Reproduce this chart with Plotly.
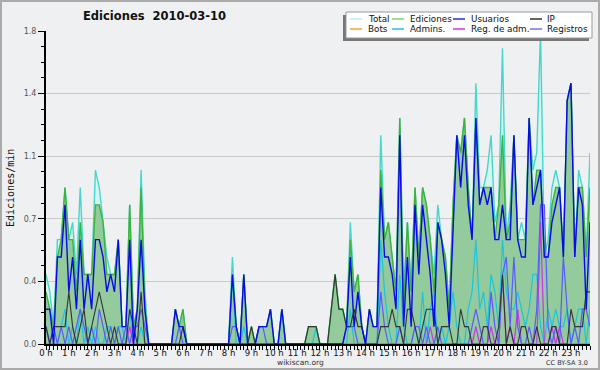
import plotly.graph_objects as go

# ---------------- data (edits per minute, 10-minute bins, 00:00 .. 23:50) ----------------
HOURS = list(range(24))
HOUR_LABELS = ["0 h", "1 h", "2 h", "3 h", "4 h", "5 h", "6 h", "7 h", "8 h", "9 h", "10 h", "11 h",
               "12 h", "13 h", "14 h", "15 h", "16 h", "17 h", "18 h", "19 h", "20 h", "21 h", "22 h", "23 h"]
Y_TICKS = [0, 0.36, 0.72, 1.08, 1.44, 1.8]
Y_TICK_LABELS = ["0.0", "0.4", "0.7", "1.1", "1.4", "1.8"]

total = [
    0.4, 0.3, 0.1, 0.6, 0.6, 0.9,   0.6, 0.7, 0.4, 0.9, 0.4, 0.4,
    0.4, 1.0, 0.9, 0.7, 0.5, 0.4,   0.4, 0.6, 0.1, 0.1, 0.8, 0.1,
    0.2, 1.0, 0.3, 0, 0, 0,         0, 0, 0, 0, 0.2, 0.1,
    0.2, 0, 0, 0, 0, 0,             0, 0, 0, 0, 0, 0,
    0, 0.5, 0.1, 0, 0.4, 0,         0.1, 0, 0.1, 0.1, 0.1, 0.2,
    0, 0, 0.2, 0, 0, 0,             0, 0, 0, 0.1, 0.1, 0.1,
    0, 0, 0, 0.2, 0.4, 0.2,         0.2, 0.1, 0.7, 0.3, 0.4, 0.1,
    0, 0.2, 0.1, 0.1, 1.2, 0.6,     0.7, 0.5, 0.3, 1.3, 0.3, 0.7,
    0.3, 0.9, 0.5, 0.9, 0.8, 0.6,   0.4, 0.8, 0.6, 0.5, 0.2, 0.8,
    1.2, 1.1, 1.3, 0.9, 0.6, 1.5,   0.9, 0.9, 1.0, 1.2, 0.7, 0.8,
    1.7, 0.6, 0.8, 1.2, 0.6, 0.7,   0.6, 1.3, 1.0, 1.1, 1.8, 0.5,
    0.6, 0.9, 1.0, 0.9, 0.5, 1.4,   1.5, 0.5, 1.0, 0.9, 0.5, 1.1,
]
ediciones = [
    0.3, 0.2, 0.1, 0.5, 0.6, 0.9,   0.6, 0.6, 0.3, 0.7, 0.4, 0.4,
    0.4, 0.8, 0.8, 0.7, 0.4, 0.4,   0.4, 0.6, 0.1, 0.1, 0.8, 0.1,
    0.2, 0.9, 0.2, 0, 0, 0,         0, 0, 0, 0, 0.2, 0.1,
    0.2, 0, 0, 0, 0, 0,             0, 0, 0, 0, 0, 0,
    0, 0.4, 0.1, 0, 0.4, 0,         0.1, 0, 0.1, 0.1, 0.1, 0.2,
    0, 0, 0.2, 0, 0, 0,             0, 0, 0, 0.1, 0.1, 0.1,
    0, 0, 0, 0.2, 0.4, 0.2,         0.2, 0.1, 0.6, 0.3, 0.4, 0.1,
    0, 0.2, 0.1, 0.1, 1.0, 0.6,     0.7, 0.5, 0.3, 1.3, 0.2, 0.7,
    0.3, 0.9, 0.5, 0.9, 0.8, 0.6,   0.3, 0.7, 0.6, 0.5, 0.2, 0.8,
    1.2, 1.1, 1.3, 0.9, 0.6, 1.3,   0.8, 0.9, 0.9, 0.9, 0.6, 0.8,
    1.2, 0.6, 0.7, 1.2, 0.6, 0.6,   0.6, 1.3, 0.8, 1.0, 1.0, 0.5,
    0.5, 0.8, 0.9, 0.9, 0.5, 1.4,   1.5, 0.5, 0.9, 0.9, 0.5, 0.9,
]
usuarios = [
    0.2, 0.2, 0, 0.5, 0.5, 0.8,     0.3, 0.5, 0.2, 0.6, 0.2, 0.4,
    0.2, 0.6, 0.6, 0.5, 0.3, 0.4,   0.3, 0.6, 0.1, 0.1, 0.6, 0,
    0.2, 0.6, 0.2, 0, 0, 0,         0, 0, 0, 0, 0.2, 0.1,
    0.1, 0, 0, 0, 0, 0,             0, 0, 0, 0, 0, 0,
    0, 0.4, 0.1, 0, 0.4, 0,         0, 0, 0.1, 0.1, 0.1, 0.2,
    0, 0, 0.2, 0, 0, 0,             0, 0, 0, 0, 0, 0,
    0, 0, 0, 0, 0, 0,               0, 0.1, 0.5, 0.1, 0.3, 0.1,
    0, 0.2, 0.1, 0.1, 0.9, 0.5,     0.5, 0.4, 0.2, 1.2, 0.1, 0.5,
    0.1, 0.8, 0.4, 0.8, 0.6, 0.4,   0.1, 0.7, 0.6, 0.4, 0.1, 0.7,
    1.2, 0.9, 1.2, 0.8, 0.6, 1.3,   0.8, 0.9, 0.8, 0.9, 0.6, 0.6,
    0.8, 0.6, 0.6, 1.2, 0.6, 0.5,   0.5, 1.3, 0.8, 0.9, 1.0, 0.5,
    0.5, 0.7, 0.8, 0.9, 0.5, 1.4,   1.5, 0.5, 0.9, 0.8, 0.2, 0.7,
]
ip = [
    0.1, 0, 0.1, 0.1, 0.1, 0.1,     0.3, 0.1, 0, 0.1, 0.2, 0,
    0.1, 0.2, 0.3, 0.2, 0.1, 0,     0.1, 0, 0, 0, 0.2, 0.1,
    0, 0.3, 0, 0, 0, 0,             0, 0, 0, 0, 0, 0,
    0.1, 0, 0, 0, 0, 0,             0, 0, 0, 0, 0, 0,
    0, 0, 0, 0, 0, 0,               0.1, 0, 0, 0, 0, 0,
    0, 0, 0, 0, 0, 0,               0, 0, 0, 0.1, 0.1, 0.1,
    0, 0, 0, 0.2, 0.4, 0.2,         0.2, 0.1, 0.1, 0.2, 0.1, 0.1,
    0, 0, 0, 0, 0.1, 0.1,           0.1, 0.2, 0.1, 0.1, 0, 0.2,
    0.2, 0.1, 0, 0.1, 0.2, 0.2,     0.2, 0, 0.1, 0.1, 0.1, 0,
    0, 0.2, 0.1, 0.1, 0, 0,         0, 0.1, 0.1, 0, 0, 0.1,
    0.4, 0, 0.1, 0, 0, 0.1,         0.1, 0, 0, 0.1, 0, 0,
    0, 0.1, 0.1, 0, 0, 0,           0.2, 0.1, 0.1, 0.1, 0.3, 0.3,
]
bots = [
    0, 0, 0, 0, 0, 0,   0, 0, 0, 0, 0, 0,   0, 0, 0, 0, 0, 0,   0, 0, 0, 0, 0, 0,
    0, 0, 0, 0, 0, 0,   0, 0, 0, 0, 0, 0,   0, 0, 0, 0, 0, 0,   0, 0, 0, 0, 0, 0,
    0, 0, 0, 0, 0, 0,   0, 0, 0, 0, 0, 0,   0, 0, 0, 0, 0, 0,   0, 0, 0, 0, 0, 0,
    0, 0, 0, 0, 0, 0,   0, 0, 0, 0, 0, 0,   0, 0, 0, 0, 0, 0,   0, 0, 0, 0, 0, 0,
    0, 0, 0, 0, 0, 0,   0, 0, 0, 0, 0, 0,   0, 0, 0, 0, 0, 0,   0, 0, 0, 0, 0, 0,
    0, 0, 0, 0, 0, 0,   0, 0, 0, 0, 0, 0,   0, 0, 0, 0, 0, 0,   0, 0, 0, 0, 0, 0,
]
admins = [
    0.1, 0, 0, 0, 0.1, 0.2,         0, 0.1, 0, 0.2, 0, 0.1,
    0, 0.1, 0, 0, 0.1, 0.1,         0, 0.1, 0.1, 0, 0.2, 0,
    0, 0.1, 0, 0, 0, 0,             0, 0, 0, 0, 0, 0,
    0, 0, 0, 0, 0, 0,               0, 0, 0, 0, 0, 0,
    0, 0.4, 0, 0, 0.1, 0,           0, 0, 0, 0, 0, 0,
    0, 0, 0.2, 0, 0, 0,             0, 0, 0, 0, 0, 0.1,
    0, 0, 0, 0, 0, 0,               0, 0, 0.2, 0, 0, 0,
    0, 0, 0, 0, 0.6, 0.3,           0.1, 0, 0, 0.4, 0.1, 0,
    0, 0.1, 0, 0.3, 0, 0.2,         0.3, 0, 0.1, 0, 0.1, 0.3,
    0.1, 0, 0, 0.2, 0.3, 0.6,       0.2, 0.3, 0.1, 0.4, 0.3, 0.1,
    0.6, 0.3, 0.2, 0.2, 0.3, 0.2,   0.1, 0.2, 0.4, 0.4, 0.1, 0,
    0.2, 0.1, 0.2, 0.1, 0.1, 0.2,   0, 0.1, 0.2, 0.2, 0, 0.2,
]
reg_adm = [
    0, 0, 0, 0, 0, 0,   0, 0, 0, 0, 0, 0,   0, 0, 0, 0, 0, 0,   0, 0, 0, 0, 0.1, 0,
    0, 0, 0, 0, 0, 0,   0, 0, 0, 0, 0, 0,   0, 0, 0, 0, 0, 0,   0, 0, 0, 0, 0, 0,
    0, 0, 0, 0, 0, 0,   0, 0, 0, 0, 0, 0,   0, 0, 0, 0, 0, 0,   0, 0, 0, 0, 0, 0,
    0, 0, 0, 0, 0, 0,   0, 0, 0, 0, 0, 0,   0, 0, 0, 0, 0, 0,   0, 0, 0, 0, 0, 0,
    0, 0, 0, 0, 0, 0.1, 0, 0, 0, 0, 0, 0,   0, 0, 0, 0, 0, 0.1, 0, 0, 0, 0.1, 0, 0,
    0.4, 0, 0.1, 0, 0.2, 0,   0, 0, 0, 0, 0.7, 0,   0, 0.1, 0, 0.1, 0, 0,   0, 0, 0, 0, 0, 0,
]
registros = [
    0.1, 0, 0.1, 0, 0.1, 0,         0.1, 0, 0.1, 0.2, 0.1, 0,
    0.1, 0, 0.2, 0.1, 0, 0.1,       0, 0.1, 0, 0.1, 0, 0.1,
    0.1, 0.2, 0.1, 0, 0, 0,         0, 0, 0, 0, 0, 0.1,
    0, 0, 0, 0, 0, 0,               0, 0, 0, 0, 0, 0,
    0, 0.1, 0.1, 0, 0, 0,           0, 0, 0.1, 0.1, 0, 0,
    0, 0, 0, 0, 0, 0,               0, 0, 0, 0, 0, 0,
    0, 0, 0, 0, 0, 0,               0, 0.1, 0.1, 0.1, 0, 0,
    0, 0, 0, 0, 0.3, 0.1,           0, 0, 0, 0.1, 0, 0,
    0, 0.1, 0.1, 0, 0.1, 0,         0, 0.1, 0, 0, 0, 0,
    0, 0, 0, 0, 0.1, 0.2,           0.1, 0, 0, 0.3, 0.1, 0,
    0.4, 0.5, 0.1, 0.5, 0.1, 0,     0, 0.1, 0, 0.2, 0.8, 0.8,
    0.1, 0, 0.1, 0, 0.5, 0.2,       0, 0.1, 0, 0.2, 0.2, 0.1,
]

# time slots (hours) for the 10-minute bins
x = [i / 6 for i in range(len(total))]

# ---------------- layout helpers (pixel -> paper coords) ----------------
W, H = 600, 370
ML, MR, MT, MB = 46, 10, 31, 26
PW, PH = W - ML - MR, H - MT - MB


def px(v):
    return (v - ML) / PW


def py(v):
    return (H - MB - v) / PH


FONT = "DejaVu Sans"

fig = go.Figure()

fig.add_trace(go.Scatter(x=x, y=total, mode="lines", fill="tozeroy",
                         fillcolor="rgba(214,244,238,0.9)",
                         line=dict(color="#44d8cc", width=1.4), showlegend=False))
fig.add_trace(go.Scatter(x=x, y=ediciones, mode="lines", fill="tozeroy",
                         fillcolor="rgba(142,199,150,0.92)",
                         line=dict(color="#3cb43c", width=1.4), showlegend=False))
fig.add_trace(go.Scatter(x=x, y=bots, mode="lines",
                         line=dict(color="#ffa030", width=1.2), showlegend=False))
fig.add_trace(go.Scatter(x=x, y=admins, mode="lines",
                         line=dict(color="#1cc4dc", width=1.2), showlegend=False))
fig.add_trace(go.Scatter(x=x, y=reg_adm, mode="lines",
                         line=dict(color="#cc33e6", width=1.2), showlegend=False))
fig.add_trace(go.Scatter(x=x, y=registros, mode="lines",
                         line=dict(color="#5a5aff", width=1.2), showlegend=False))
fig.add_trace(go.Scatter(x=x, y=ip, mode="lines",
                         line=dict(color="#333333", width=1.1), showlegend=False))
fig.add_trace(go.Scatter(x=x, y=usuarios, mode="lines",
                         line=dict(color="#0a0ae8", width=1.4), showlegend=False))

shapes = []
annotations = []

# outer border
shapes.append(dict(type="rect", xref="paper", yref="paper",
                   x0=px(1), x1=px(599), y0=py(369), y1=py(1),
                   line=dict(color="#aaaaaa", width=2), fillcolor="rgba(0,0,0,0)", layer="above"))

# legend box with shadow
shapes.append(dict(type="rect", xref="paper", yref="paper",
                   x0=px(343), x1=px(589), y0=py(41), y1=py(15),
                   line=dict(width=0), fillcolor="#777777", layer="above"))
shapes.append(dict(type="rect", xref="paper", yref="paper",
                   x0=px(346), x1=px(592), y0=py(38), y1=py(12),
                   line=dict(color="#999999", width=1), fillcolor="#ffffff", layer="above"))

LEGEND = [
    ("Total", "#b8ece4", 350, 366, 19),
    ("Ediciones", "#7cd07c", 392, 408, 19),
    ("Usuarios", "#2a2ae0", 453, 469, 19),
    ("IP", "#333333", 530, 545, 19),
    ("Bots", "#ffa030", 350, 366, 29),
    ("Admins.", "#1cc4dc", 392, 408, 29),
    ("Reg. de adm.", "#cc33e6", 453, 469, 29),
    ("Registros", "#7070ff", 530, 545, 29),
]
for name, col, lx, tx, ry in LEGEND:
    shapes.append(dict(type="line", xref="paper", yref="paper",
                       x0=px(lx), x1=px(lx + 12), y0=py(ry), y1=py(ry),
                       line=dict(color=col, width=1.5), layer="above"))
    annotations.append(dict(xref="paper", yref="paper", x=px(tx), y=py(ry),
                            text=name, showarrow=False, xanchor="left", yanchor="middle",
                            font=dict(family=FONT, size=8.8, color="#111111")))

# title
annotations.append(dict(xref="paper", yref="paper", x=px(154), y=py(16),
                        text="<b>Ediciones  2010-03-10</b>", showarrow=False,
                        xanchor="center", yanchor="middle",
                        font=dict(family=FONT, size=11.5, color="#111111")))
# y-axis title
annotations.append(dict(xref="paper", yref="paper", x=px(10), y=py(188),
                        text="Ediciones/min", showarrow=False, textangle=-90,
                        xanchor="center", yanchor="middle",
                        font=dict(family="DejaVu Sans Mono", size=10, color="#111111")))
# footer
annotations.append(dict(xref="paper", yref="paper", x=px(300), y=py(362.5),
                        text="wikiscan.org", showarrow=False,
                        xanchor="center", yanchor="middle",
                        font=dict(family=FONT, size=7.5, color="#333333")))
annotations.append(dict(xref="paper", yref="paper", x=px(590), y=py(362.5),
                        text="CC BY-SA 3.0", showarrow=False,
                        xanchor="right", yanchor="middle",
                        font=dict(family=FONT, size=6.5, color="#333333")))

fig.update_layout(
    width=W, height=H,
    margin=dict(l=ML, r=MR, t=MT, b=MB, pad=0),
    paper_bgcolor="#eff0f2",
    plot_bgcolor="#eff0f2",
    showlegend=False,
    shapes=shapes,
    annotations=annotations,
    xaxis=dict(
        range=[0, x[-1]], showgrid=False, zeroline=False,
        showline=True, linecolor="#000000", linewidth=2,
        tickmode="array", tickvals=HOURS, ticktext=HOUR_LABELS,
        ticks="outside", ticklen=4, tickwidth=1, tickcolor="#000000",
        minor=dict(dtick=1 / 6, tick0=0, ticks="outside", ticklen=4, tickwidth=1,
                   tickcolor="#000000", showgrid=False),
        tickfont=dict(family=FONT, size=8.5, color="#111111"),
        ticklabelstandoff=-4,
        fixedrange=True,
    ),
    yaxis=dict(
        range=[0, 1.8], showgrid=True, gridcolor="#cacaca", gridwidth=1,
        zeroline=False, showline=True, linecolor="#000000", linewidth=2,
        tickmode="array", tickvals=Y_TICKS, ticktext=Y_TICK_LABELS,
        ticks="outside", ticklen=6, tickwidth=1, tickcolor="#000000",
        minor=dict(dtick=0.09, tick0=0, ticks="outside", ticklen=3, tickwidth=1,
                   tickcolor="#000000", showgrid=False),
        tickfont=dict(family=FONT, size=8, color="#555555"),
        fixedrange=True,
    ),
)

fig.write_html("out.html", config={"displayModeBar": False},
               post_script="document.body.style.margin='0';document.body.style.overflow='hidden';")
